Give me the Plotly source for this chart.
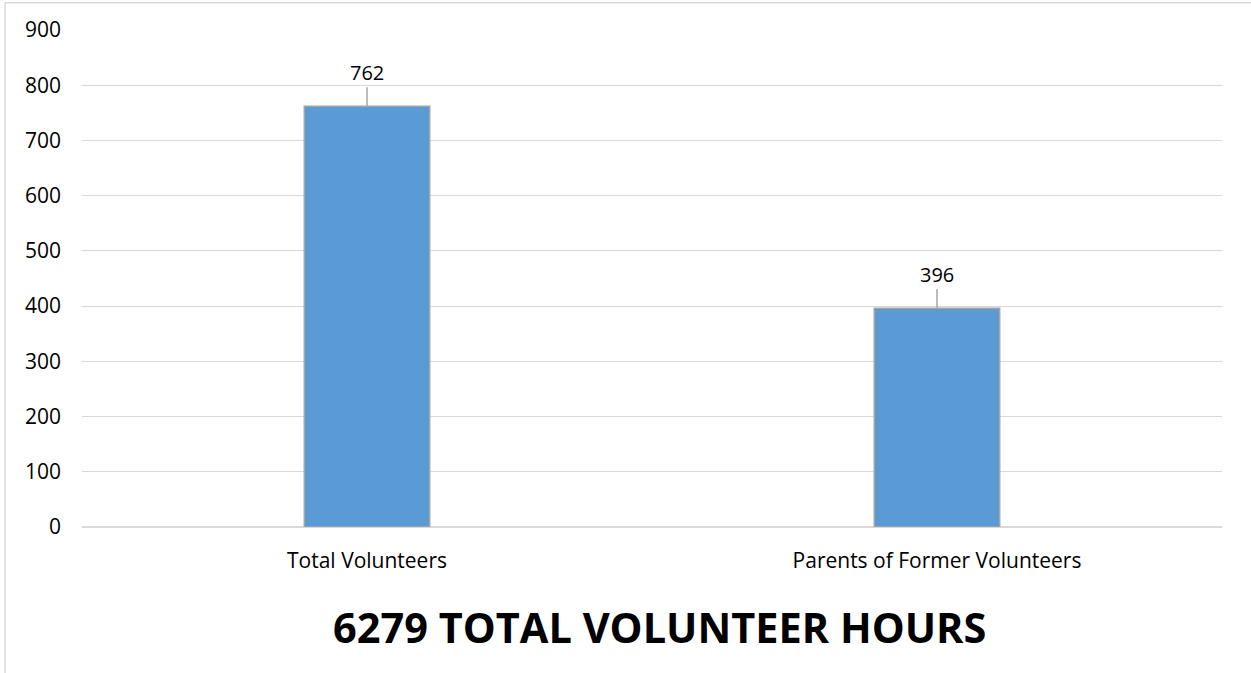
import plotly.graph_objects as go

categories = ["Total Volunteers", "Parents of Former Volunteers"]
values = [762, 396]
y_ticks = [0, 100, 200, 300, 400, 500, 600, 700, 800, 900]
title_text = "6279 TOTAL VOLUNTEER HOURS"

FONT = "Open Sans, Noto Sans, sans-serif"

fig = go.Figure()
fig.add_trace(go.Bar(
    x=categories, y=values,
    marker=dict(color="#5B9BD5", line=dict(color="#A5A5A5", width=1.5)),
    width=0.22,
))

for c, v in zip(categories, values):
    fig.add_annotation(
        x=c, y=v, xref="x", yref="y", text=str(v),
        showarrow=True, arrowhead=0, arrowwidth=1.5, arrowcolor="#A5A5A5",
        ax=0, ay=-34, standoff=0,
        font=dict(family=FONT, size=20, color="#000000"),
    )

fig.add_annotation(
    x=0.507, y=-0.201, xref="paper", yref="paper", text="<b>" + title_text + "</b>",
    showarrow=False, font=dict(family=FONT, size=41.5, color="#000000"),
    xanchor="center", yanchor="middle",
)

# outer chart border (left and top)
fig.add_shape(type="line", xref="paper", yref="paper",
              x0=-0.0675, x1=-0.0675, y0=1.055, y1=-0.32,
              line=dict(color="#D9D9D9", width=1.5))
fig.add_shape(type="line", xref="paper", yref="paper",
              x0=-0.0675, x1=1.03, y0=1.055, y1=1.055,
              line=dict(color="#D9D9D9", width=1.5))

fig.update_layout(
    width=1251, height=673,
    margin=dict(l=82, r=29, t=30, b=146),
    paper_bgcolor="white", plot_bgcolor="white",
    showlegend=False,
    font=dict(family=FONT, size=20, color="#000000"),
    xaxis=dict(showgrid=False, showline=False, ticks="", ticklabelstandoff=19,
               tickfont=dict(family=FONT, size=21)),
    yaxis=dict(range=[0, 900], tickvals=y_ticks, showgrid=True,
               gridcolor="#D9D9D9", gridwidth=1.2, zeroline=True,
               zerolinecolor="#D9D9D9", zerolinewidth=1.5, showline=False,
               ticks="", ticklabelstandoff=20,
               tickfont=dict(family=FONT, size=21)),
)

fig.write_html("out.html", config={"displayModeBar": False},
               post_script="document.body.style.margin='0';")
